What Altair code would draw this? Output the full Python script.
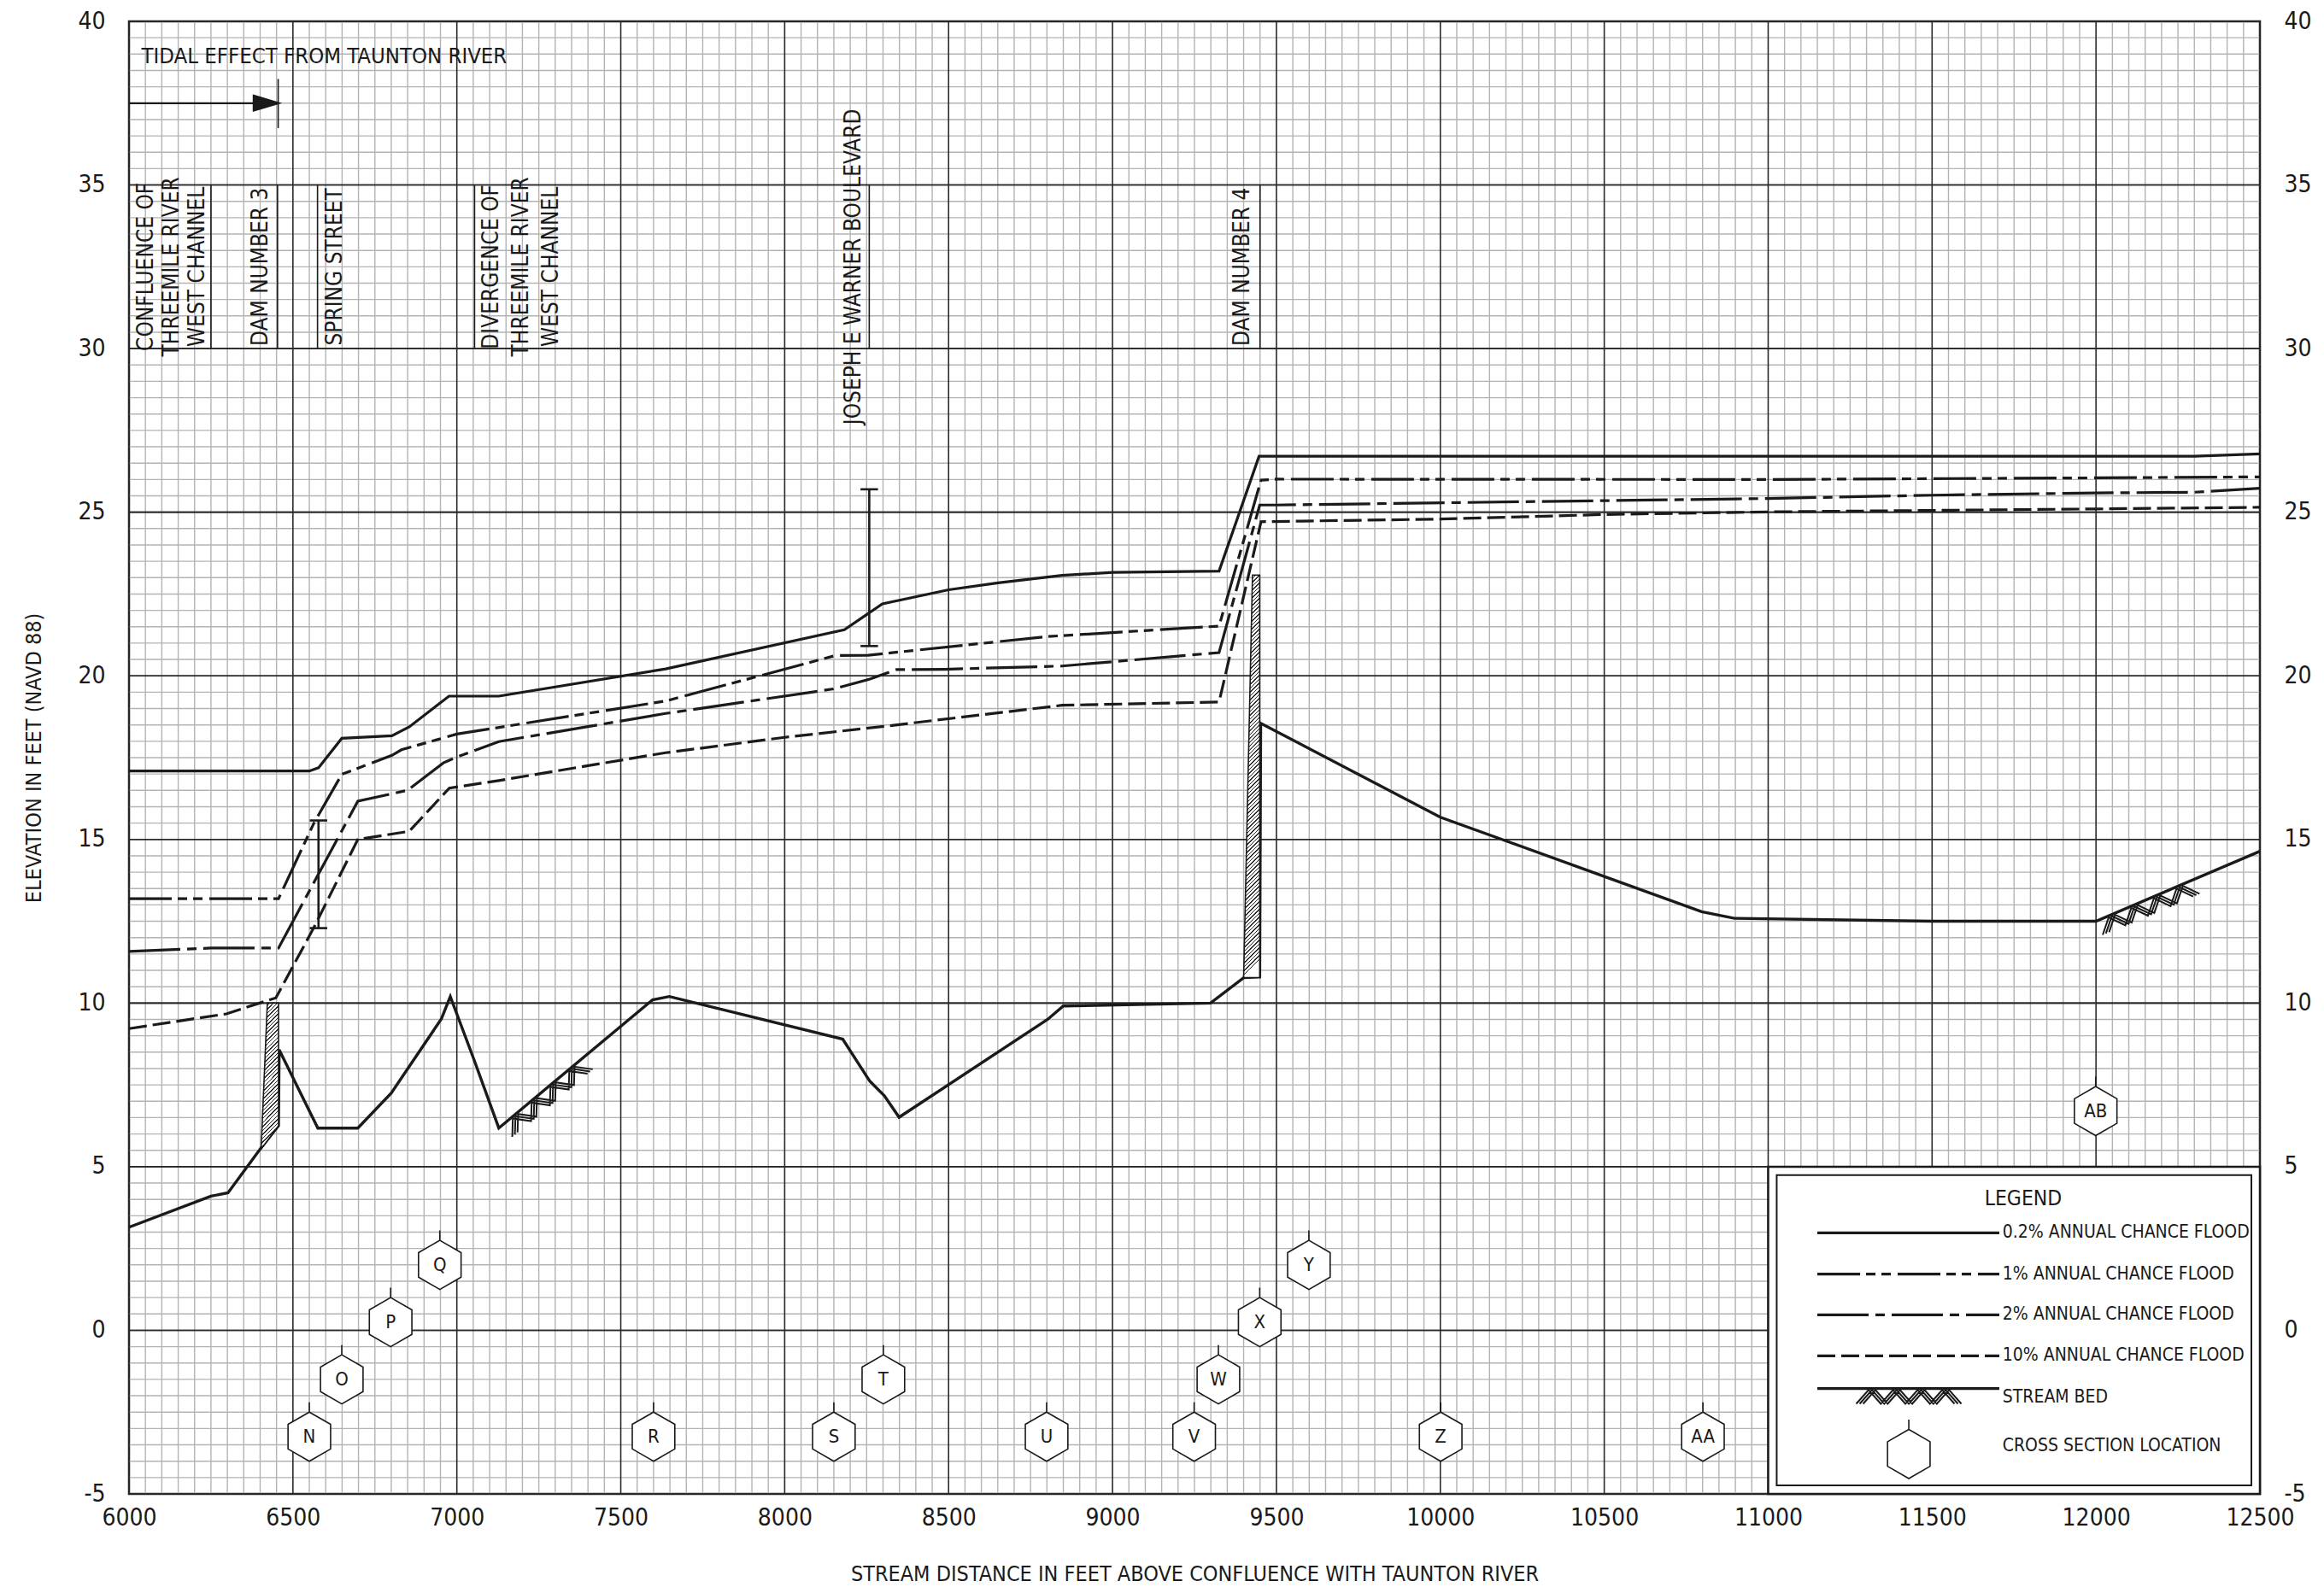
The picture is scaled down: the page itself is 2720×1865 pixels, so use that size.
import altair as alt
import pandas as pd

FONT = "Liberation Sans Narrow, Arial Narrow, DejaVu Sans Condensed, sans-serif"
INK = "#1a1a1a"

# ---------------- data ----------------
p02_x = [6000, 6550, 6578, 6649, 6802, 6855, 6976, 7128, 7637, 8182, 8298, 8500, 8651, 8846, 9000, 9325, 9447, 12300, 12500]
p02_y = [17.09, 17.09, 17.19, 18.09, 18.17, 18.44, 19.38, 19.38, 20.21, 21.41, 22.2, 22.63, 22.84, 23.07, 23.16, 23.2, 26.71, 26.71, 26.78]

p1_x = [6000, 6456, 6564, 6649, 6802, 6831, 7000, 7637, 8155, 8255, 8800, 9325, 9453, 9500, 11000, 12000, 12500]
p1_y = [13.19, 13.19, 15.5, 16.99, 17.57, 17.74, 18.22, 19.23, 20.62, 20.63, 21.2, 21.52, 25.98, 26.01, 26.0, 26.05, 26.08]

p2_x = [6000, 6250, 6456, 6698, 6849, 6959, 7000, 7128, 7400, 7637, 8149, 8260, 8341, 8488, 8846, 9325, 9449, 9500, 11000, 11500, 12000, 12300, 12500]
p2_y = [11.58, 11.68, 11.68, 16.17, 16.5, 17.34, 17.52, 17.99, 18.45, 18.85, 19.6, 19.9, 20.19, 20.2, 20.3, 20.71, 25.22, 25.22, 25.42, 25.52, 25.59, 25.61, 25.73]

p10_x = [6000, 6297, 6448, 6564, 6698, 6855, 6977, 7128, 7637, 8000, 8315, 8846, 9325, 9453, 10000, 10500, 11000, 12000, 12500]
p10_y = [9.22, 9.67, 10.16, 12.31, 15.0, 15.25, 16.57, 16.8, 17.65, 18.12, 18.47, 19.1, 19.2, 24.71, 24.79, 24.93, 25.01, 25.1, 25.15]

bed_x = [6000, 6250, 6302, 6401, 6456, 6458, 6576, 6698, 6800, 6953, 6980, 7052, 7128, 7597, 7648, 8177, 8259, 8304, 8349, 8802,
         8850, 9299, 9401, 9449, 9452, 10000, 10500, 10797, 10897, 11500, 12000, 12500]
bed_y = [3.15, 4.1, 4.2, 5.55, 6.25, 8.57, 6.18, 6.18, 7.25, 9.52, 10.2, 8.28, 6.18, 10.1, 10.2, 8.9, 7.62, 7.17, 6.51, 9.5,
         9.91, 10.0, 10.78, 10.8, 18.55, 15.68, 13.87, 12.79, 12.59, 12.5, 12.5, 14.64]

# dams (horizontal area outline: elevation, left edge, right edge)
dam3_y = [5.55, 6.25, 10.0]
dam3_left = [6403, 6406, 6422]
dam3_right = [6404, 6456, 6456]
dam4_y = [10.78, 23.08]
dam4_left = [9400, 9427]
dam4_right = [9449, 9449]

# bridges
bridge_x = [6578, 8258]
bridge_low = [12.29, 20.91]
bridge_high = [15.58, 25.7]

# location labels
loc_text = ["CONFLUENCE OF", "THREEMILE RIVER", "WEST CHANNEL", "DAM NUMBER 3", "SPRING STREET",
            "DIVERGENCE OF", "THREEMILE RIVER", "WEST CHANNEL", "JOSEPH E WARNER BOULEVARD", "DAM NUMBER 4"]
loc_x = [6052, 6130, 6209, 6402, 6628, 7105, 7196, 7288, 8211, 9397]
loc_y = [32.5, 32.5, 32.5, 32.5, 32.5, 32.5, 32.5, 32.5, 32.5, 32.5]
loc_line_x = [6250, 6453, 6575, 7054, 8258, 9450]
loc_line_lo = [30, 30, 30, 30, 30, 30]
loc_line_hi = [35, 35, 35, 35, 35, 35]

# tidal effect annotation
tidal_text = ["TIDAL EFFECT FROM TAUNTON RIVER"]
tidal_text_x = [6038]
tidal_text_y = [38.94]
tidal_arrow_x0 = [6000]
tidal_arrow_x1 = [6420]
tidal_arrow_y = [37.5]
tidal_head_x = [6419]
tidal_bar_x = [6455]
tidal_bar_lo = [36.74]
tidal_bar_hi = [38.24]

# cross sections
xs_label = ["N", "O", "P", "Q", "R", "S", "T", "U", "V", "W", "X", "Y", "Z", "AA", "AB"]
xs_x = [6550, 6649, 6798, 6948, 7600, 8150, 8301, 8799, 9249, 9323, 9449, 9599, 10001, 10801, 11999]
xs_y = [-3.25, -1.5, 0.25, 2.0, -3.25, -3.25, -1.5, -3.25, -3.25, -1.5, 0.25, 2.0, -3.25, -3.25, 6.7]

# stream bed hatch symbols
hatch_x = [7262, 12150]
hatch_y = [7.3, 13.14]
hatch_angle = [320, 337]

# legend
leg_outer_x = [11000, 12500]
leg_outer_y = [-5, 5]
leg_inner_x = [11026, 12474]
leg_inner_y = [-4.74, 4.74]
leg_title = ["LEGEND"]
leg_title_x = [11778]
leg_title_y = [4.01]
leg_line_x0 = 11150
leg_line_x1 = 11705
leg_line_y = [2.98, 1.72, 0.47, -0.78, -1.78]
leg_labels = ["0.2% ANNUAL CHANCE FLOOD", "1% ANNUAL CHANCE FLOOD", "2% ANNUAL CHANCE FLOOD",
              "10% ANNUAL CHANCE FLOOD", "STREAM BED", "CROSS SECTION LOCATION"]
leg_label_x = [11715, 11715, 11715, 11715, 11715, 11715]
leg_label_y = [2.98, 1.72, 0.47, -0.78, -2.06, -3.54]
leg_hex_x = [11429]
leg_hex_y = [-3.78]
leg_hatch_x = [11429]
leg_hatch_y = [-1.78]

# ticks / grid
x_major = list(range(6000, 12501, 500))
x_minor = [v for v in range(6000, 12501, 50) if v % 500 != 0]
y_major = list(range(-5, 41, 5))
y_minor = [v / 2 for v in range(-10, 81) if v % 10 != 0]

# ---------------- styles ----------------
DASH_1 = [50, 7, 11, 7, 11, 8]
DASH_2 = [60, 8, 11, 8]
DASH_10 = [21, 7]
HEX = "M0,-1L0.866,-0.5L0.866,0.5L0,1L-0.866,0.5L-0.866,-0.5Z M0,-1L0,-1.4"
ARROW = "M-1,-0.6L1,0L-1,0.6Z"


def zig(dx):
    pts = []
    for i in range(9):
        px = -1 + i * 0.25 + dx
        py = 0.31 if i % 2 == 0 else 0.03
        pts.append(f"{px:.3f},{py:.3f}")
    return "M" + "L".join(pts)


HATCH = " ".join(zig(d) for d in (-0.07, 0.0, 0.07))


def stripes(n, w_over_h):
    """diagonal hatch as a striped linear gradient (bounding-box units)"""
    stops = []
    for i in range(n):
        a = i / n
        b = (i + 0.32) / n
        stops += [{"offset": round(a, 5), "color": "#2a2a2a"}, {"offset": round(b, 5), "color": "#2a2a2a"},
                  {"offset": round(b + 0.0001, 5), "color": "#ffffff"}, {"offset": round((i + 1) / n - 0.0001, 5), "color": "#ffffff"}]
    return {"gradient": "linear", "x1": 0, "y1": 0, "x2": w_over_h, "y2": 1, "stops": stops}


xs = alt.Scale(domain=[6000, 12500], nice=False, zero=False)
ys = alt.Scale(domain=[-5, 40], nice=False, zero=False)


def X(f="x"):
    return alt.X(f"{f}:Q", scale=xs, axis=None)


def Y(f="y"):
    return alt.Y(f"{f}:Q", scale=ys, axis=None)


layers = []

# grid
layers.append(alt.Chart(pd.DataFrame({"x": x_minor})).mark_rule(color="#b3b3b3", strokeWidth=1.4).encode(x=X()))
layers.append(alt.Chart(pd.DataFrame({"y": y_minor})).mark_rule(color="#b3b3b3", strokeWidth=1.4).encode(y=Y()))

x_axis = alt.Axis(values=x_major, labelExpr="'' + datum.value", labelFont=FONT, labelFontSize=28, labelColor=INK,
                  labelPadding=14, ticks=False, tickSize=0, domain=False, grid=False, labelFlush=False,
                  labelOverlap=False, title="STREAM DISTANCE IN FEET ABOVE CONFLUENCE WITH TAUNTON RIVER",
                  titleFont=FONT, titleFontSize=25, titleFontWeight="normal", titleColor=INK, titlePadding=39,
                  orient="bottom")
layers.append(alt.Chart(pd.DataFrame({"x": x_major})).mark_rule(color="#2a2a2a", strokeWidth=1.6).encode(
    x=alt.X("x:Q", scale=xs, axis=x_axis)))

yl_axis = alt.Axis(values=y_major, labelExpr="'' + datum.value", labelFont=FONT, labelFontSize=28, labelColor=INK,
                   labelPadding=28, ticks=False, tickSize=0, domain=False, grid=False, labelFlush=False,
                   labelOverlap=False, title="ELEVATION IN FEET (NAVD 88)", titleFont=FONT, titleFontSize=25,
                   titleFontWeight="normal", titleColor=INK, titlePadding=38, orient="left")
layers.append(alt.Chart(pd.DataFrame({"y": y_major})).mark_rule(color="#2a2a2a", strokeWidth=1.6).encode(
    y=alt.Y("y:Q", scale=ys, axis=yl_axis)))
yr_axis = alt.Axis(values=y_major, labelExpr="'' + datum.value", labelFont=FONT, labelFontSize=28, labelColor=INK,
                   labelPadding=28, ticks=False, tickSize=0, domain=False, grid=False, labelFlush=False,
                   labelOverlap=False, title=None, orient="right")
layers.append(alt.Chart(pd.DataFrame({"y": y_major})).mark_rule(color="#2a2a2a", strokeWidth=1.6).encode(
    y=alt.Y("y:Q", scale=ys, axis=yr_axis)))

# legend box background
layers.append(alt.Chart(pd.DataFrame({"x": [leg_outer_x[0]], "x2": [leg_outer_x[1]], "y": [leg_outer_y[0]], "y2": [leg_outer_y[1]]}))
              .mark_rect(fill="white", stroke=INK, strokeWidth=2.5).encode(x=X(), x2="x2:Q", y=Y(), y2="y2:Q"))
layers.append(alt.Chart(pd.DataFrame({"x": [leg_inner_x[0]], "x2": [leg_inner_x[1]], "y": [leg_inner_y[0]], "y2": [leg_inner_y[1]]}))
              .mark_rect(fill="white", stroke=INK, strokeWidth=2).encode(x=X(), x2="x2:Q", y=Y(), y2="y2:Q"))


# profiles
def prof(xv, yv, dash=None, width=3.2):
    df = pd.DataFrame({"x": xv, "y": yv, "o": list(range(len(xv)))})
    kw = dict(color=INK, strokeWidth=width, strokeJoin="miter", strokeCap="butt")
    if dash:
        kw["strokeDash"] = dash
    return alt.Chart(df).mark_line(**kw).encode(x=X(), y=Y(), order="o:Q")


layers.append(prof(p10_x, p10_y, DASH_10))
layers.append(prof(p2_x, p2_y, DASH_2))
layers.append(prof(p1_x, p1_y, DASH_1))
layers.append(prof(p02_x, p02_y))
layers.append(prof(bed_x, bed_y, None, 3.4))

# dams (hatched)
for dy, dl, dr, n, ratio in ((dam3_y, dam3_left, dam3_right, 38, 0.12), (dam4_y, dam4_left, dam4_right, 105, 0.04)):
    df = pd.DataFrame({"y": dy, "x": dl, "x2": dr})
    layers.append(alt.Chart(df).mark_area(orient="horizontal", fill=stripes(n, ratio), stroke=INK, strokeWidth=1.6,
                                          opacity=1)
                  .encode(y=Y(), x=X(), x2="x2:Q"))

# stream bed hatch
layers.append(alt.Chart(pd.DataFrame({"x": hatch_x, "y": hatch_y, "a": hatch_angle}))
              .mark_point(shape=HATCH, size=13225, filled=False, stroke=INK, strokeWidth=2, opacity=1)
              .encode(x=X(), y=Y(), angle=alt.Angle("a:Q", scale=None)))

# bridges
df_b = pd.DataFrame({"x": bridge_x, "y": bridge_low, "y2": bridge_high})
layers.append(alt.Chart(df_b).mark_rule(color=INK, strokeWidth=2.6).encode(x=X(), y=Y(), y2="y2:Q"))
df_caps = pd.DataFrame({"x": bridge_x + bridge_x, "y": bridge_low + bridge_high})
layers.append(alt.Chart(df_caps).mark_point(shape="M-1,0L1,0", size=420, filled=False, stroke=INK,
                                            strokeWidth=2.6, opacity=1).encode(x=X(), y=Y()))

# location label rules and text
df_ll = pd.DataFrame({"x": loc_line_x, "y": loc_line_lo, "y2": loc_line_hi})
layers.append(alt.Chart(df_ll).mark_rule(color=INK, strokeWidth=1.6).encode(x=X(), y=Y(), y2="y2:Q"))
df_lt = pd.DataFrame({"x": loc_x, "y": loc_y, "t": loc_text})
layers.append(alt.Chart(df_lt).mark_text(font=FONT, fontSize=26, angle=270, align="center", baseline="middle",
                                         color=INK).encode(x=X(), y=Y(), text="t:N"))

# tidal effect
layers.append(alt.Chart(pd.DataFrame({"x": tidal_text_x, "y": tidal_text_y, "t": tidal_text}))
              .mark_text(font=FONT, fontSize=25.5, align="left", baseline="middle", color=INK)
              .encode(x=X(), y=Y(), text="t:N"))
layers.append(alt.Chart(pd.DataFrame({"x": tidal_arrow_x0, "x2": tidal_arrow_x1, "y": tidal_arrow_y}))
              .mark_rule(color=INK, strokeWidth=2.2).encode(x=X(), x2="x2:Q", y=Y()))
layers.append(alt.Chart(pd.DataFrame({"x": tidal_head_x, "y": tidal_arrow_y}))
              .mark_point(shape=ARROW, size=900, filled=True, fill=INK, stroke=INK, opacity=1)
              .encode(x=X(), y=Y()))
layers.append(alt.Chart(pd.DataFrame({"x": tidal_bar_x, "y": tidal_bar_lo, "y2": tidal_bar_hi}))
              .mark_rule(color=INK, strokeWidth=1.6).encode(x=X(), y=Y(), y2="y2:Q"))

# cross sections
df_xs = pd.DataFrame({"x": xs_x, "y": xs_y, "t": xs_label})
layers.append(alt.Chart(df_xs).mark_point(shape=HEX, size=3306, filled=True, fill="white", stroke=INK,
                                          strokeWidth=1.6, opacity=1).encode(x=X(), y=Y()))
layers.append(alt.Chart(df_xs).mark_text(font=FONT, fontSize=22, align="center", baseline="middle", color=INK)
              .encode(x=X(), y=Y(), text="t:N"))

# legend content
layers.append(alt.Chart(pd.DataFrame({"x": leg_title_x, "y": leg_title_y, "t": leg_title}))
              .mark_text(font=FONT, fontSize=24.5, align="center", baseline="middle", color=INK)
              .encode(x=X(), y=Y(), text="t:N"))
leg_dashes = [None, DASH_1, DASH_2, DASH_10, None]
for ly, dsh in zip(leg_line_y, leg_dashes):
    kw = dict(color=INK, strokeWidth=3.2)
    if dsh:
        kw["strokeDash"] = dsh
    layers.append(alt.Chart(pd.DataFrame({"x": [leg_line_x0], "x2": [leg_line_x1], "y": [ly]}))
                  .mark_rule(**kw).encode(x=X(), x2="x2:Q", y=Y()))
layers.append(alt.Chart(pd.DataFrame({"x": leg_label_x, "y": leg_label_y, "t": leg_labels}))
              .mark_text(font=FONT, fontSize=21, align="left", baseline="middle", color=INK)
              .encode(x=X(), y=Y(), text="t:N"))
layers.append(alt.Chart(pd.DataFrame({"x": leg_hatch_x, "y": leg_hatch_y}))
              .mark_point(shape=HATCH, size=13225, filled=False, stroke=INK, strokeWidth=2, opacity=1)
              .encode(x=X(), y=Y()))
layers.append(alt.Chart(pd.DataFrame({"x": leg_hex_x, "y": leg_hex_y}))
              .mark_point(shape=HEX, size=3306, filled=True, fill="white", stroke=INK, strokeWidth=1.6, opacity=1)
              .encode(x=X(), y=Y()))

chart = (
    alt.layer(*layers)
    .resolve_axis(x="independent", y="independent")
    .properties(width=2494, height=1724,
                padding={"left": 143, "top": 17, "right": 66, "bottom": 108},
                autosize=alt.AutoSizeParams(type="none"),
                background="white")
    .configure_view(stroke=INK, strokeWidth=2.5)
)

chart.save("out.html", embed_options={"renderer": "svg", "actions": False})
